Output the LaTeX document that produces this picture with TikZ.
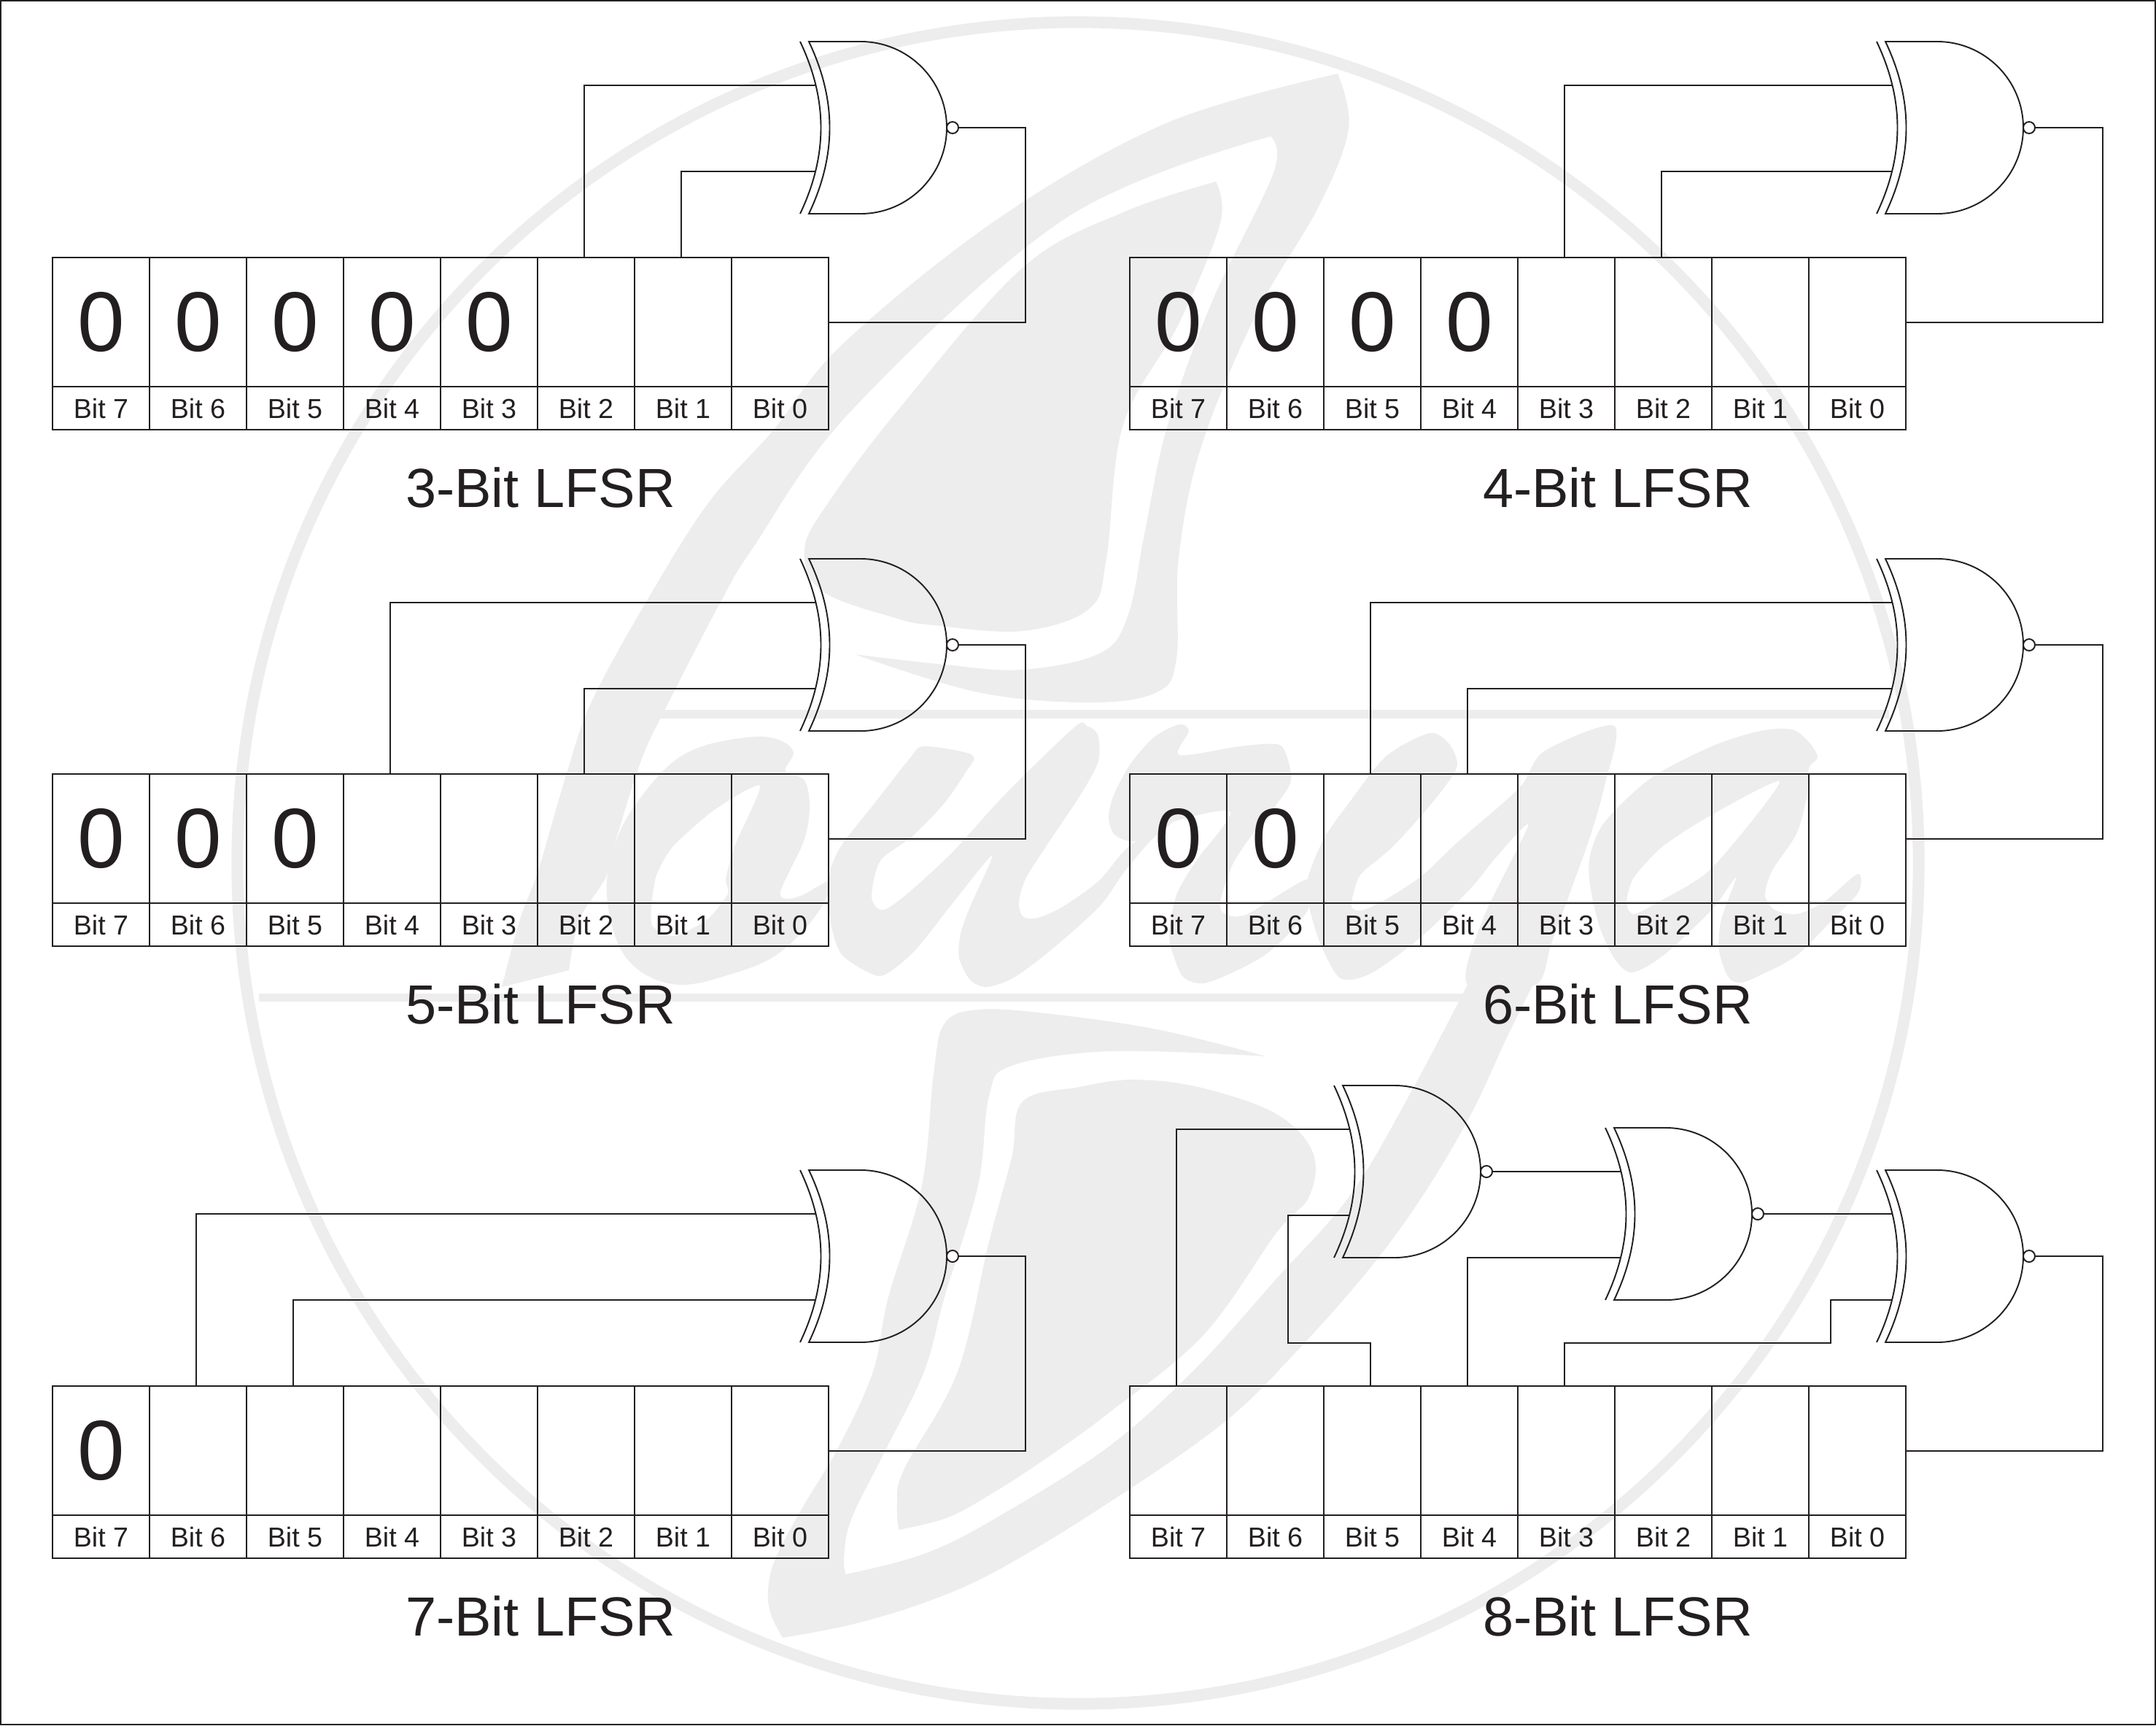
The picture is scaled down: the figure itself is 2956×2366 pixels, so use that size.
\documentclass[tikz,border=0pt]{standalone}
\usepackage{fontspec}
\setmainfont{Liberation Sans}
\usetikzlibrary{calc}
\definecolor{ink}{HTML}{231F20}
\definecolor{wm}{HTML}{EDEDED}
% #1 id, #2 top left corner, #3 length of the register
\newcommand{\register}[3]{
  \coordinate (#1) at (#2);
  \foreach \bitno [evaluate=\bitno as \slot using int(7-\bitno)] in {7,6,5,4,3,2,1,0} {
    \node[bit box,anchor=north west] (#1-box\bitno) at ($ (#1) + (\slot*133,0) $) {\ifnum\bitno<#3 \else 0\fi};
    \node[bit tag,anchor=north] (#1-tag\bitno) at (#1-box\bitno.south) {Bit \bitno};
    \coordinate (#1-tap\bitno) at ($ (#1-box\bitno.north) + (-3,0) $);
  }
  \coordinate (#1-turn) at ($ (#1-box0.east) + (270,0) $);
  \node[lfsr title,anchor=base] (#1-title) at ($ (#1) + (669,342) $) {#3-Bit LFSR};
}
% #1 id, #2 top left corner
\newcommand{\norgate}[2]{
  \begin{scope}[shift={(#2)}]
    \draw[wire] (0,0) -- (71,0) .. controls (136,0) and (189,53) .. (189,118)
      .. controls (189,183) and (136,236) .. (71,236) -- (0,236)
      .. controls (38,156) and (38,80) .. (0,0) -- cycle;
    \draw[wire] (-12,0) .. controls (26,80) and (26,156) .. (-12,236);
    \node[bubble] (#1-bubble) at (197,118) {};
    \coordinate (#1-in1) at (9,60);
    \coordinate (#1-in2) at (9,178);
    \coordinate (#1-out) at (#1-bubble.east);
  \end{scope}
}

\begin{document}
\begin{tikzpicture}[
    x=0.01cm,y=-0.01cm,
    wire/.style={draw=ink,line width=0.55pt},
    bit box/.style={draw=ink,line width=0.55pt,minimum width=1.33cm,minimum height=1.77cm,inner sep=0pt,outer sep=0pt,text=ink,font=\fontsize{33}{33}\selectfont},
    bit tag/.style={draw=ink,line width=0.55pt,minimum width=1.33cm,minimum height=0.59cm,inner sep=0pt,outer sep=0pt,text=ink,font=\fontsize{10.7}{12}\selectfont},
    lfsr title/.style={inner sep=0pt,text=ink,font=\fontsize{21.5}{24}\selectfont},
    bubble/.style={circle,draw=ink,fill=white,line width=0.55pt,minimum size=0.16cm,inner sep=0pt,outer sep=0pt},
    watermark/.style={fill=wm},
    wm curve/.style={smooth,tension=.6},
    wm hole/.style={fill=white},
  ]
  \useasboundingbox (0,0) rectangle (2956,2366);

  % watermark
  \draw[wm,line width=0.16cm] (1478,1183) circle[radius=11.52cm];
  \fill[watermark] (899,973) rectangle (2590,985);
  \fill[watermark] (355,1362) rectangle (2005,1373);
  \fill[watermark] plot[wm curve] coordinates {(1834,101) (1849,176) (1808,283) (1723,429) (1647,612) (1616,765) (1613,903) (1586,949) (1494,963) (1341,949) (1172,897)}
    -- plot[wm curve] coordinates {(1172,897) (1295,911) (1402,918) (1509,895) (1547,842) (1570,727) (1601,582) (1662,413) (1746,237) (1742,187)}
    -- plot[wm curve] coordinates {(1742,187) (1463,298) (1170,560) (1033,750) (987,827) (913,970) (880,1040) (847,1143) (832,1200) (795,1260) (780,1330)}
    -- plot[wm curve] coordinates {(688,1353) (713,1260) (738,1193) (777,1060) (812,960) (893,813) (973,687) (1060,590) (1157,470) (1371,298) (1601,168) (1834,101)} -- cycle;
  \fill[watermark] plot[wm curve] coordinates {(1667,249) (1673,306) (1616,444) (1540,582) (1517,765) (1494,834) (1402,865) (1280,857) (1227,847) (1127,810) (1103,753) (1137,687) (1233,560) (1402,367) (1540,291) (1667,249)} -- cycle;
  \fill[watermark] plot[wm curve] coordinates {(1736,1448) (1586,1411) (1433,1389) (1341,1384) (1295,1403) (1280,1472) (1264,1625) (1218,1778) (1197,1880) (1150,1983) (1100,2067) (1063,2137) (1053,2180) (1057,2213) (1073,2245)}
    -- plot[wm curve] coordinates {(1073,2245) (1167,2227) (1267,2197) (1367,2153) (1520,2060) (1678,1950) (1780,1850) (1877,1740) (1950,1640) (2017,1527) (2067,1420) (2107,1340)}
    -- plot[wm curve] coordinates {(2017,1340) (1933,1500) (1850,1640) (1750,1753) (1640,1875) (1520,1983) (1367,2080) (1267,2130) (1160,2158)}
    -- plot[wm curve] coordinates {(1160,2158) (1157,2137) (1167,2083) (1213,1990) (1267,1880) (1295,1778) (1341,1625) (1356,1503) (1387,1461) (1524,1441) (1736,1448)} -- cycle;
  \fill[watermark] plot[wm curve] coordinates {(1232,2097) (1230,2060) (1240,2013) (1313,1880) (1356,1702) (1387,1587) (1402,1510) (1480,1490) (1555,1480) (1647,1491) (1750,1527) (1800,1580) (1795,1640) (1750,1690) (1650,1830) (1520,1937) (1433,2000) (1367,2043) (1300,2080) (1232,2097)} -- cycle;
  % letters
  \fill[watermark] plot[smooth cycle,tension=.6] coordinates {(1033,1010) (1070,1015) (1088,1032) (1077,1057) (1103,1070) (1110,1107) (1103,1150) (1083,1193) (1070,1223) (1077,1232) (1100,1227) (1140,1208) (1117,1257) (1063,1310) (997,1337) (933,1350) (880,1333) (847,1293) (832,1227) (838,1177) (860,1120) (913,1053) (963,1023)};
  \fill[wm hole] plot[smooth cycle,tension=.4] coordinates {(1042,1077) (980,1110) (923,1160) (900,1200) (893,1243) (895,1270) (925,1283) (970,1260) (998,1225) (995,1205) (1007,1160)};
  \fill[watermark] plot[smooth cycle,tension=.5] coordinates {(1267,1023) (1333,1035) (1323,1060) (1293,1103) (1250,1147) (1207,1180) (1195,1227) (1203,1245) (1217,1245) (1250,1220) (1307,1167) (1377,1090) (1473,997) (1490,995) (1505,1007) (1506,1043) (1483,1087) (1443,1147) (1407,1203) (1397,1237) (1403,1257) (1423,1258) (1457,1243) (1507,1207) (1548,1160) (1607,1127) (1580,1150) (1543,1193) (1507,1243) (1440,1303) (1390,1340) (1353,1353) (1330,1343) (1315,1313) (1317,1280) (1330,1243) (1360,1173) (1307,1237) (1257,1300) (1223,1330) (1200,1337) (1153,1307) (1137,1253) (1137,1200) (1153,1160) (1200,1100) (1247,1040)};
  \fill[watermark] plot[smooth cycle,tension=.5] coordinates {(1548,1153) (1527,1143) (1520,1120) (1527,1090) (1550,1047) (1583,1010) (1617,993) (1630,1002) (1617,1035) (1700,1023) (1750,1020) (1763,1033) (1770,1070) (1750,1103) (1720,1140) (1690,1185) (1673,1237) (1680,1253) (1710,1253) (1793,1205) (1795,1243) (1767,1280) (1733,1310) (1690,1333) (1650,1348) (1623,1340) (1610,1313) (1603,1280) (1613,1227) (1640,1180) (1687,1113) (1607,1127) (1570,1150)};
  \fill[watermark] plot[smooth cycle,tension=.5] coordinates {(1815,1150) (1850,1100) (1900,1037) (1960,1005) (1987,1020) (1998,1047) (1987,1070) (1953,1113) (1907,1163) (1867,1197) (1857,1220) (1853,1243) (1867,1248) (1900,1233) (1950,1200) (2000,1153) (2083,1080) (2117,1030) (2213,995) (2200,1077) (2180,1147) (2155,1217) (2127,1293) (2105,1350) (2012,1350) (2033,1260) (2095,1132) (2053,1173) (2017,1217) (1950,1283) (1887,1330) (1853,1343) (1833,1337) (1810,1293) (1795,1243) (1793,1205)};
  \fill[watermark] plot[smooth cycle,tension=.5] coordinates {(2457,1000) (2480,1017) (2492,1038) (2480,1053) (2477,1093) (2463,1143) (2430,1193) (2420,1227) (2433,1247) (2463,1253) (2500,1237) (2547,1198) (2548,1223) (2513,1260) (2463,1310) (2413,1337) (2387,1347) (2370,1340) (2357,1303) (2360,1260) (2380,1203) (2347,1247) (2280,1310) (2237,1333) (2213,1313) (2193,1270) (2180,1213) (2180,1173) (2200,1127) (2263,1067) (2347,1023) (2413,1002)};
  \fill[wm hole] plot[smooth cycle,tension=.4] coordinates {(2440,1072) (2347,1117) (2280,1160) (2240,1203) (2230,1237) (2240,1253) (2280,1233) (2347,1190)};

  \draw[wire] (1,1) rectangle (2955,2364);

  \register{lfsr3}{72,353}{3}
  \register{lfsr4}{1549,353}{4}
  \register{lfsr5}{72,1061}{5}
  \register{lfsr6}{1549,1061}{6}
  \register{lfsr7}{72,1900}{7}
  \register{lfsr8}{1549,1900}{8}

  \norgate{gate3}{1109,57}
  \norgate{gate4}{2585,57}
  \norgate{gate5}{1109,766}
  \norgate{gate6}{2585,766}
  \norgate{gate7}{1109,1604}
  \norgate{gate8a}{1841,1488}
  \norgate{gate8b}{2213,1546}
  \norgate{gate8c}{2585,1604}

  \foreach \r/\g/\ta/\tb in {lfsr3/gate3/2/1,lfsr4/gate4/3/2,lfsr5/gate5/4/2,lfsr6/gate6/5/4,lfsr7/gate7/6/5} {
    \draw[wire] (\r-tap\ta) |- (\g-in1);
    \draw[wire] (\r-tap\tb) |- (\g-in2);
  }
  \foreach \r/\g in {lfsr3/gate3,lfsr4/gate4,lfsr5/gate5,lfsr6/gate6,lfsr7/gate7,lfsr8/gate8c} {
    \draw[wire] (\g-out) -| (\r-turn) -- (\r-box0.east);
  }

  \coordinate (jog8a) at (1766,1841);
  \coordinate (jog8c) at (2510,1841);
  \draw[wire] (lfsr8-tap7) |- (gate8a-in1);
  \draw[wire] (lfsr8-tap5) |- (jog8a) |- (gate8a-in2);
  \draw[wire] (gate8a-out) -- (gate8b-in1);
  \draw[wire] (lfsr8-tap4) |- (gate8b-in2);
  \draw[wire] (gate8b-out) -- (gate8c-in1);
  \draw[wire] (lfsr8-tap3) |- (jog8c) |- (gate8c-in2);
\end{tikzpicture}
\end{document}
